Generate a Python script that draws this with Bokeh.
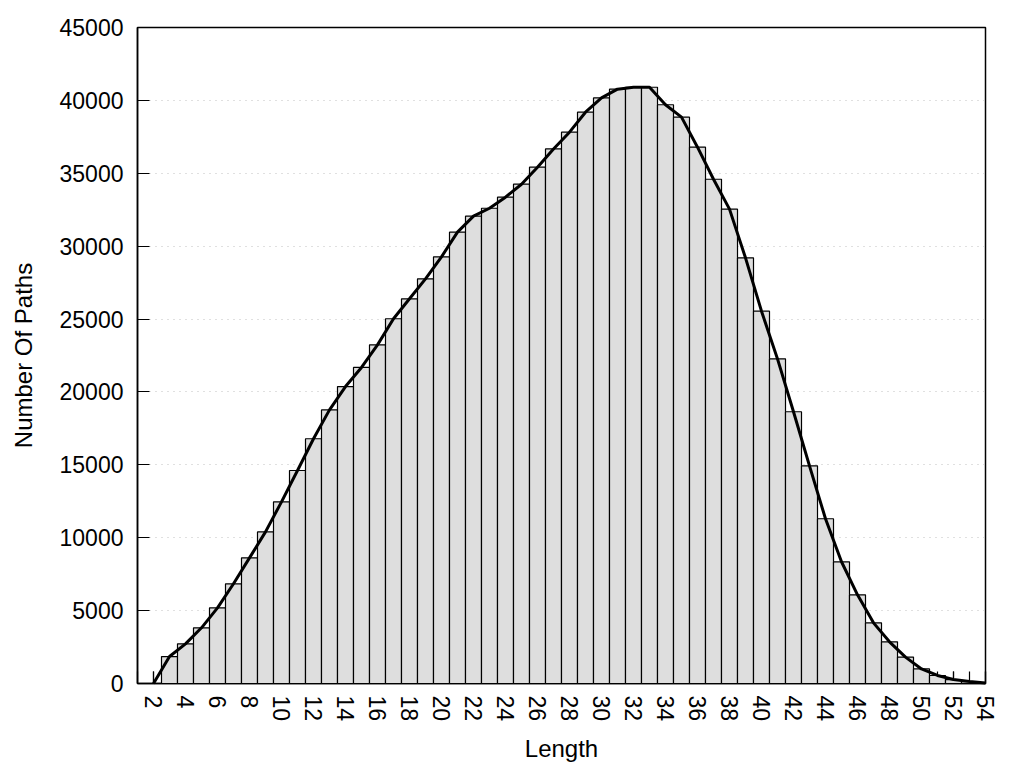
from bokeh.plotting import figure
from bokeh.models import FixedTicker, Range1d, BasicTickFormatter, ColumnDataSource
from bokeh.embed import file_html
from bokeh.resources import INLINE

lengths = list(range(2, 55))
paths = [0, 1850, 2720, 3820, 5190, 6840, 8620, 10400, 12460, 14610,
         16790, 18770, 20370, 21680, 23230, 25020, 26390, 27760, 29270, 30960,
         32060, 32600, 33360, 34250, 35420, 36670, 37820, 39190, 40170, 40770,
         40900, 40900, 39700, 38850, 36790, 34590, 32540, 29200, 25540, 22270,
         18640, 14930, 11300, 8350, 6080, 4160, 2860, 1810, 1000, 550,
         270, 130, 30]
x_ticks = list(range(2, 55, 2))
x_minor = list(range(1, 55))
y_ticks = list(range(0, 45001, 5000))

src = ColumnDataSource(dict(x=lengths, y=paths))

FONT = "Liberation Sans"

p = figure(frame_width=848, frame_height=656, output_backend="svg", toolbar_location=None,
           x_range=Range1d(1, 54), y_range=Range1d(0, 45000),
           min_border_left=137, min_border_top=27, min_border_right=15, min_border_bottom=78)

bars = p.vbar(x="x", top="y", width=1, source=src, fill_color="#dedede",
              line_color="black", line_width=1.2)
bars.level = "annotation"

if hasattr(p, "spline"):
    curve = p.spline(x="x", y="y", source=src, line_color="black", line_width=3, tension=0.5)
else:
    curve = p.line(x="x", y="y", source=src, line_color="black", line_width=3)
curve.level = "overlay"

p.outline_line_color = "black"
p.outline_line_width = 1.5
p.background_fill_color = "white"
p.border_fill_color = "white"

p.xgrid.visible = False
p.ygrid.ticker = FixedTicker(ticks=y_ticks[1:-1])
p.ygrid.grid_line_color = "#c0c0c0"
p.ygrid.grid_line_dash = "1 5"
p.ygrid.grid_line_width = 1

xa = p.xaxis[0]
xa.ticker = FixedTicker(ticks=x_ticks, minor_ticks=x_minor)
xa.major_label_orientation = "vertical"
xa.major_tick_in = 12
xa.major_tick_out = 0
xa.minor_tick_in = 12
xa.minor_tick_out = 0
xa.major_label_standoff = 12
xa.axis_label = "Length"
xa.axis_label_standoff = 11

ya = p.yaxis[0]
ya.ticker = FixedTicker(ticks=y_ticks)
ya.formatter = BasicTickFormatter(use_scientific=False)
ya.major_tick_in = 12
ya.major_tick_out = 0
ya.minor_tick_in = 0
ya.minor_tick_out = 0
ya.major_label_standoff = 14
ya.axis_label = "Number Of Paths"
ya.axis_label_standoff = 20

for ax in (xa, ya):
    ax.axis_line_color = "black"
    ax.axis_line_width = 1.5
    ax.major_tick_line_color = "black"
    ax.major_tick_line_width = 1.2
    ax.minor_tick_line_color = "black"
    ax.minor_tick_line_width = 1.2
    ax.major_label_text_font = FONT
    ax.major_label_text_font_size = "23px"
    ax.major_label_text_color = "black"
    ax.axis_label_text_font = FONT
    ax.axis_label_text_font_size = "24px"
    ax.axis_label_text_font_style = "normal"
    ax.axis_label_text_color = "black"

open("out.html", "w").write(file_html(p, INLINE))
